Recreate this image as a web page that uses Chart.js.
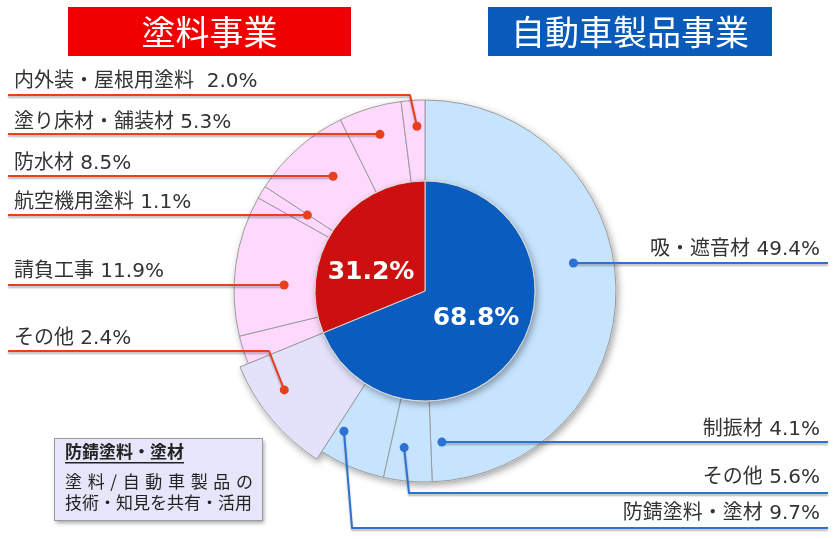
<!DOCTYPE html>
<html>
<head>
<meta charset="utf-8">
<script src="https://cdn.jsdelivr.net/npm/chart.js@4/dist/chart.umd.min.js"></script>
<style>
  html, body { margin: 0; padding: 0; background: #fff; }
</style>
</head>
<body>
<canvas id="segChart" width="834" height="539"></canvas>
<script>
// inner pie: business share, clockwise from 12 o'clock
var businessNames = ["自動車製品事業", "塗料事業"];
var businessShares = [68.8, 31.2];

// outer ring: product share, clockwise from 12 o'clock
var autoCategories = ["吸・遮音材", "制振材", "その他", "防錆塗料・塗材"];
var autoShares = [49.4, 4.1, 5.6, 9.7];
var paintCategories = ["その他", "請負工事", "航空機用塗料", "防水材", "塗り床材・舗装材", "内外装・屋根用塗料"];
var paintShares = [2.4, 11.9, 1.1, 8.5, 5.3, 2.0];

var FONT = '"Noto Sans CJK JP", "Noto Sans", sans-serif';
var LABEL_FONT = '20px "DejaVu Sans", "Noto Sans CJK JP", sans-serif';
var RED_LINE = "#e8401c";
var BLUE_LINE = "#2d72d2";

var productNames = autoCategories.concat(paintCategories);
var productShares = autoShares.concat(paintShares);
var productColors = productNames.map(function (n, i) {
  if (i === 3) return "#e4e2fb";           // shared rust-proof segment
  return i < autoCategories.length ? "#c7e4ff" : "#ffd9fd";
});

// callout layout: which outer segment, where the text sits, how the leader runs
var callouts = [
  { i: 0, side: "right", textY: 250, lineY: 263, shift: -9.6, r: 151 },
  { i: 1, side: "right", textY: 430, lineY: 442, shift: -11.6, r: 152 },
  { i: 2, side: "right", textY: 478, lineY: 493, shift: -15.1, r: 158, elbowX: 409 },
  { i: 3, side: "right", textY: 514, lineY: 528, shift: -20.2, r: 162, elbowX: 352 },
  { i: 4, side: "left", textY: 339, lineY: 351, shift: -17.1, r: 172, elbowX: 269 },
  { i: 5, side: "left", textY: 272, lineY: 285, shift: -5.3, r: 141 },
  { i: 6, side: "left", textY: 203, lineY: 215, shift: 1.7, r: 140 },
  { i: 7, side: "left", textY: 164, lineY: 176, shift: 2.9, r: 147 },
  { i: 8, side: "left", textY: 123, lineY: 134, shift: 0.7, r: 163 },
  { i: 9, side: "left", textY: 82, lineY: 95, shift: 0.8, r: 165, elbowX: 410, gap: "  " }
];

// the rust-proof piece sticks out of the ring a little
var bulgePlugin = {
  id: "bulge",
  afterDatasetsUpdate: function (chart) {
    var el = chart.getDatasetMeta(0).data[3];
    if (el) el.outerRadius += 9;
  }
};

function arcPath(ctx, el, rOut, rIn) {
  ctx.beginPath();
  ctx.arc(el.x, el.y, rOut, el.startAngle, el.endAngle);
  if (rIn > 0) ctx.arc(el.x, el.y, rIn, el.endAngle, el.startAngle, true);
  else ctx.lineTo(el.x, el.y);
  ctx.closePath();
}

var shadowPlugin = {
  id: "shadows",
  beforeDatasetDraw: function (chart, args) {
    var ctx = chart.ctx;
    ctx.save();
    ctx.shadowColor = "rgba(0,0,0,0.35)";
    ctx.shadowBlur = 7;
    ctx.shadowOffsetX = 2;
    ctx.shadowOffsetY = 3;
    ctx.fillStyle = "#ffffff";
    args.meta.data.forEach(function (el) {
      arcPath(ctx, el, el.outerRadius + 0.5, args.index === 0 ? el.innerRadius : 0);
      ctx.fill();
    });
    ctx.restore();
  }
};

function leaderLine(ctx, pts, color) {
  ctx.save();
  ctx.lineWidth = 2;
  ctx.strokeStyle = color;
  ctx.lineJoin = "round";
  ctx.shadowColor = "rgba(0,0,0,0.3)";
  ctx.shadowBlur = 2;
  ctx.shadowOffsetY = 2;
  ctx.beginPath();
  pts.forEach(function (p, k) { if (k === 0) ctx.moveTo(p[0], p[1]); else ctx.lineTo(p[0], p[1]); });
  ctx.stroke();
  ctx.restore();
}

var decorPlugin = {
  id: "decor",
  afterDraw: function (chart) {
    var ctx = chart.ctx;
    var outer = chart.getDatasetMeta(0).data;

    // business header boxes
    ctx.save();
    ctx.fillStyle = "#f00000";
    ctx.fillRect(68, 7, 283, 49);
    ctx.fillStyle = "#0a5bb9";
    ctx.fillRect(488, 7, 284, 49);
    ctx.fillStyle = "#ffffff";
    ctx.font = "34px " + FONT;
    ctx.textAlign = "center";
    ctx.textBaseline = "middle";
    ctx.fillText(businessNames[1], 209.5, 32);
    ctx.fillText(businessNames[0], 630, 32);
    ctx.restore();

    // callouts
    callouts.forEach(function (c) {
      var el = outer[c.i];
      var a = (el.startAngle + el.endAngle) / 2 + c.shift * Math.PI / 180;
      var dx = el.x + c.r * Math.cos(a);
      var dy = el.y + c.r * Math.sin(a);
      var color = c.i < autoCategories.length ? BLUE_LINE : RED_LINE;
      var ex = c.elbowX !== undefined ? c.elbowX : dx;
      var pts = c.side === "left"
        ? [[8, c.lineY], [ex, c.lineY], [dx, dy]]
        : [[dx, dy], [ex, c.lineY], [828, c.lineY]];
      leaderLine(ctx, pts, color);
      ctx.save();
      ctx.fillStyle = color;
      ctx.beginPath();
      ctx.arc(dx, dy, 4.5, 0, Math.PI * 2);
      ctx.fill();
      ctx.fillStyle = "#333333";
      ctx.font = LABEL_FONT;
      ctx.textBaseline = "middle";
      var txt = productNames[c.i] + (c.gap || " ") + productShares[c.i].toFixed(1) + "%";
      if (c.side === "left") { ctx.textAlign = "left"; ctx.fillText(txt, 14, c.textY); }
      else { ctx.textAlign = "right"; ctx.fillText(txt, 820, c.textY); }
      ctx.restore();
    });

    // inner percentages
    ctx.save();
    ctx.fillStyle = "#ffffff";
    ctx.font = 'bold 25px "DejaVu Sans", sans-serif';
    ctx.textAlign = "center";
    ctx.textBaseline = "middle";
    ctx.fillText(businessShares[1].toFixed(1) + "%", 371, 272);
    ctx.fillText(businessShares[0].toFixed(1) + "%", 476, 318);
    ctx.restore();

    // note box
    ctx.save();
    ctx.shadowColor = "rgba(0,0,0,0.35)";
    ctx.shadowBlur = 4;
    ctx.shadowOffsetX = 2;
    ctx.shadowOffsetY = 3;
    ctx.fillStyle = "#e6e6fa";
    ctx.fillRect(54, 438, 208, 82);
    ctx.restore();
    ctx.save();
    ctx.strokeStyle = "#9a9a9a";
    ctx.lineWidth = 1;
    ctx.strokeRect(54.5, 438.5, 208, 82);
    ctx.fillStyle = "#222222";
    ctx.textBaseline = "middle";
    ctx.font = "bold 17px " + FONT;
    var title = autoCategories[3];
    ctx.fillText(title, 65, 452);
    var tw = ctx.measureText(title).width;
    ctx.fillRect(65, 462, tw, 1.5);
    ctx.font = "17px " + FONT;
    var line2 = "塗料/自動車製品の";
    var chars = line2.split("");
    var cw = chars.map(function (ch) { return ctx.measureText(ch).width; });
    var total = cw.reduce(function (s, w) { return s + w; }, 0);
    var gap = (188 - total) / (chars.length - 1);
    var x = 65;
    chars.forEach(function (ch, k) { ctx.fillText(ch, x, 482); x += cw[k] + gap; });
    ctx.fillText("技術・知見を共有・活用", 65, 503);
    ctx.restore();
  }
};

new Chart(document.getElementById("segChart"), {
  type: "doughnut",
  data: {
    labels: productNames,
    datasets: [{
      label: "製品",
      data: productShares,
      backgroundColor: productColors,
      borderColor: "#9a9a9a",
      borderWidth: 1,
      weight: 81,
      order: 1
    }, {
      label: "事業",
      data: businessShares,
      backgroundColor: ["#0a5cbf", "#cc1010"],
      borderColor: "#d8d8d8",
      borderWidth: 1,
      weight: 110,
      order: 0
    }]
  },
  options: {
    responsive: false,
    animation: false,
    events: [],
    cutout: 0,
    radius: 191,
    layout: { padding: { left: 234, right: 218, top: 100, bottom: 57 } },
    plugins: {
      legend: { display: false },
      tooltip: { enabled: false }
    }
  },
  plugins: [bulgePlugin, shadowPlugin, decorPlugin]
});
</script>
</body>
</html>
